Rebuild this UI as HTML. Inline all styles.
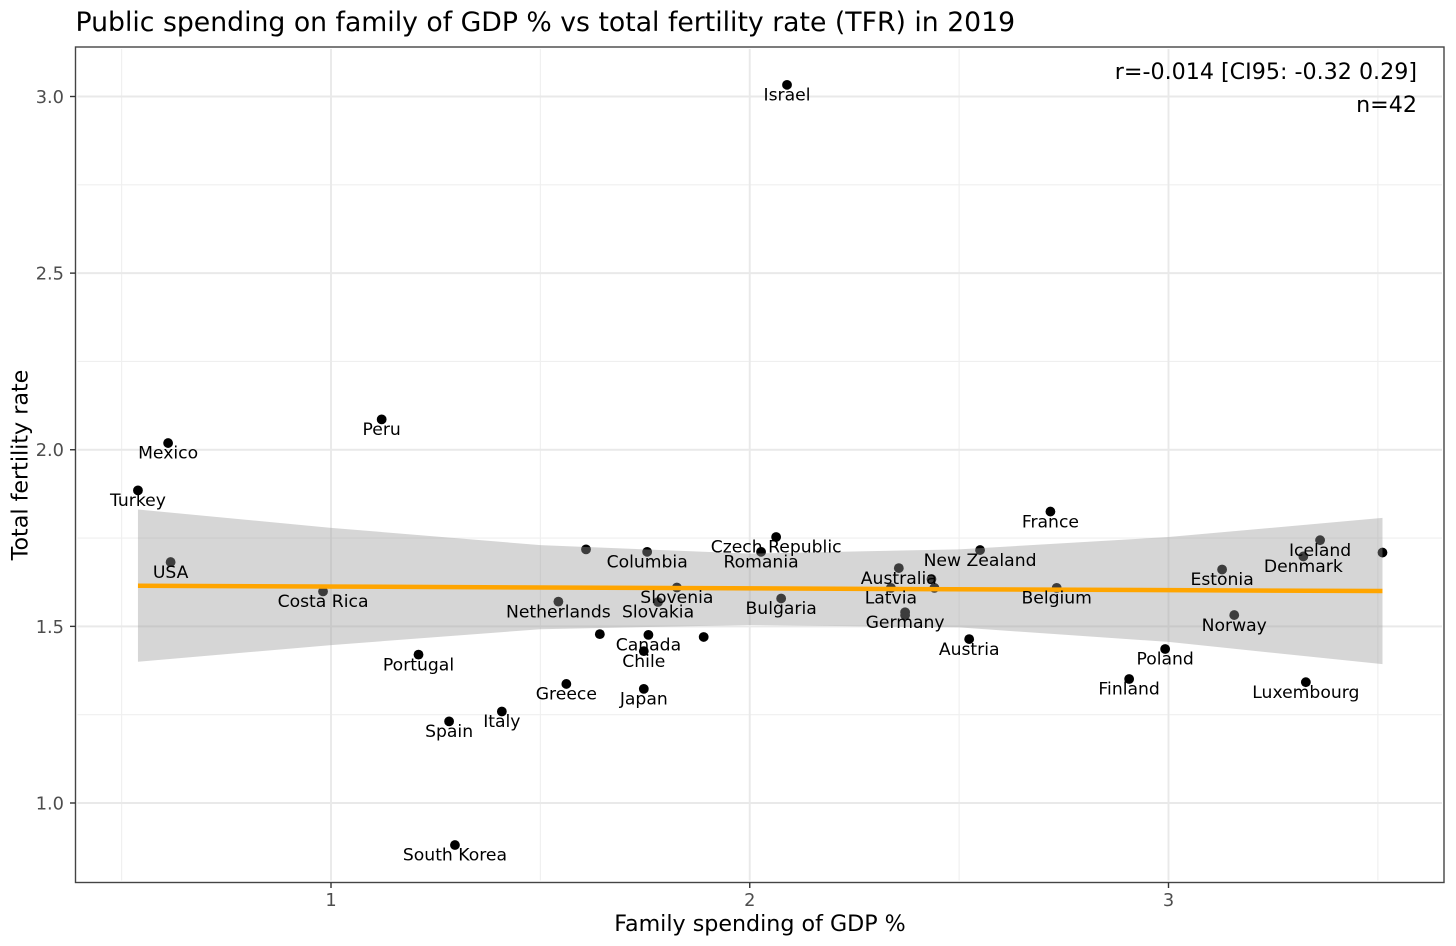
<!DOCTYPE html>
<html lang="en">
<head>
<meta charset="utf-8">
<title>Public spending on family of GDP % vs total fertility rate (TFR) in 2019</title>
<style>
html,body{margin:0;padding:0;background:#fff;}
svg{display:block;font-family:"DejaVu Sans","Liberation Sans",sans-serif;}
</style>
</head>
<body>
<svg id="chart" width="1456" height="946" viewBox="0 0 1456 946" xmlns="http://www.w3.org/2000/svg">
<rect x="0" y="0" width="1456" height="946" fill="#ffffff"/>
<text x="75.5" y="31" font-size="26.7" fill="#000">Public spending on family of GDP % vs total fertility rate (TFR) in 2019</text>
<g id="grid"></g>
<g id="points"></g>
<g id="band"></g>
<g id="fit"></g>
<g id="labels"></g>
<rect x="75.5" y="47" width="1368.5" height="835.5" fill="none" stroke="#444444" stroke-width="1.4"/>
<g id="axes"></g>
<text x="1417" y="79" font-size="22.2" text-anchor="end" fill="#000">r=-0.014 [CI95: -0.32 0.29]</text>
<text x="1417" y="112" font-size="22.2" text-anchor="end" fill="#000">n=42</text>
<text x="760" y="931" font-size="22.2" text-anchor="middle" fill="#000">Family spending of GDP %</text>
<text transform="translate(27.5,465) rotate(-90)" font-size="22.2" text-anchor="middle" fill="#000">Total fertility rate</text>
</svg>
<script>
const countries = ["Israel","Peru","Mexico","Turkey","USA","Costa Rica","Portugal","Spain","Italy","South Korea","Greece","Netherlands","","Columbia","Slovenia","Slovakia","","Canada","Chile","Japan","","Czech Republic","Romania","Bulgaria","Australia","Latvia","Germany","","","","New Zealand","Austria","France","Belgium","Poland","Finland","Estonia","Norway","Luxembourg","Iceland","Denmark",""];
const familySpending = [2.089,1.121,0.611,0.539,0.617,0.981,1.209,1.282,1.408,1.296,1.562,1.543,1.609,1.755,1.826,1.781,1.642,1.758,1.747,1.747,1.890,2.063,2.027,2.075,2.356,2.337,2.371,2.371,2.434,2.441,2.550,2.524,2.718,2.733,2.992,2.906,3.128,3.157,3.328,3.362,3.322,3.511];
const fertilityRate = [3.033,2.086,2.019,1.885,1.682,1.599,1.420,1.231,1.259,0.881,1.337,1.570,1.718,1.711,1.610,1.569,1.478,1.476,1.430,1.323,1.470,1.753,1.711,1.579,1.665,1.609,1.540,1.532,1.634,1.609,1.716,1.464,1.825,1.609,1.436,1.351,1.661,1.532,1.342,1.744,1.698,1.709];
const bandX = [0.539,1,1.5,2,2.5,3,3.511];
const bandUpper = [1.831,1.779,1.730,1.706,1.718,1.753,1.807];
const bandLower = [1.400,1.447,1.492,1.504,1.497,1.456,1.393];
const fitX = [0.539,3.511];
const fitY = [1.615,1.600];
const xMajorTicks = [1,2,3];
const xMinorTicks = [0.5,1.5,2.5,3.5];
const yMajorTicks = [1.0,1.5,2.0,2.5,3.0];
const yMinorTicks = [1.25,1.75,2.25,2.75];

const NS = 'http://www.w3.org/2000/svg';
const panel = {left:75.5, right:1444, top:47, bottom:882.5};
const xScale = v => 331 + (v - 1) * 418.75;
const yScale = v => 803 - (v - 1) * 353.25;
function make(tag, attrs, parent, text) {
  const el = document.createElementNS(NS, tag);
  for (const k in attrs) el.setAttribute(k, attrs[k]);
  if (text !== undefined) el.textContent = text;
  parent.appendChild(el);
  return el;
}
const gridG = document.getElementById('grid');
const pointsG = document.getElementById('points');
const bandG = document.getElementById('band');
const fitG = document.getElementById('fit');
const labelsG = document.getElementById('labels');
const axesG = document.getElementById('axes');

function vGrid(v, color, w) {
  const el = make('line', {x1:xScale(v), x2:xScale(v), y1:panel.top+2, y2:panel.bottom-2, stroke:color, 'stroke-width':w}, gridG);
  
  
}
function hGrid(v, color, w) {
  const el = make('line', {x1:panel.left+2, x2:panel.right-2, y1:yScale(v), y2:yScale(v), stroke:color, 'stroke-width':w}, gridG);
  
  
}
xMinorTicks.forEach(v => vGrid(v, '#efefef', 1.1));
yMinorTicks.forEach(v => hGrid(v, '#efefef', 1.1));
xMajorTicks.forEach(v => vGrid(v, '#e9e9e9', 1.9));
yMajorTicks.forEach(v => hGrid(v, '#e9e9e9', 1.9));

familySpending.forEach((x, i) => {
  const c = make('circle', {cx:xScale(x), cy:yScale(fertilityRate[i]), r:4.9, fill:'#000'}, pointsG);
  
  
});

const upperPts = bandX.map((x, i) => xScale(x) + ',' + yScale(bandUpper[i]));
const lowerPts = bandX.map((x, i) => xScale(x) + ',' + yScale(bandLower[i])).reverse();
const bandPoly = make('polygon', {points:upperPts.concat(lowerPts).join(' '), fill:'#999999', 'fill-opacity':0.4}, bandG);



const fitLine = make('line', {x1:xScale(fitX[0]), y1:yScale(fitY[0]), x2:xScale(fitX[1]), y2:yScale(fitY[1]), stroke:'#FFA500', 'stroke-width':4.5}, fitG);



countries.forEach((name, i) => {
  if (!name) return;
  const t = make('text', {x:xScale(familySpending[i]), y:yScale(fertilityRate[i]) + 15.7, 'text-anchor':'middle', 'font-size':17.2, fill:'#000'}, labelsG, name);
  
  
});

xMajorTicks.forEach(v => {
  const tick = make('line', {x1:xScale(v), x2:xScale(v), y1:panel.bottom, y2:panel.bottom+5.5, stroke:'#333', 'stroke-width':1.4}, axesG);
  
  
  const lab = make('text', {x:xScale(v), y:906, 'text-anchor':'middle', 'font-size':17.8, fill:'#4d4d4d'}, axesG, String(v));
  
  
});
yMajorTicks.forEach(v => {
  const tick = make('line', {x1:panel.left-5.5, x2:panel.left, y1:yScale(v), y2:yScale(v), stroke:'#333', 'stroke-width':1.4}, axesG);
  
  
  const lab = make('text', {x:64, y:yScale(v)+6.4, 'text-anchor':'end', 'font-size':17.8, fill:'#4d4d4d'}, axesG, v.toFixed(1));
  
  
});
</script>
</body>
</html>
